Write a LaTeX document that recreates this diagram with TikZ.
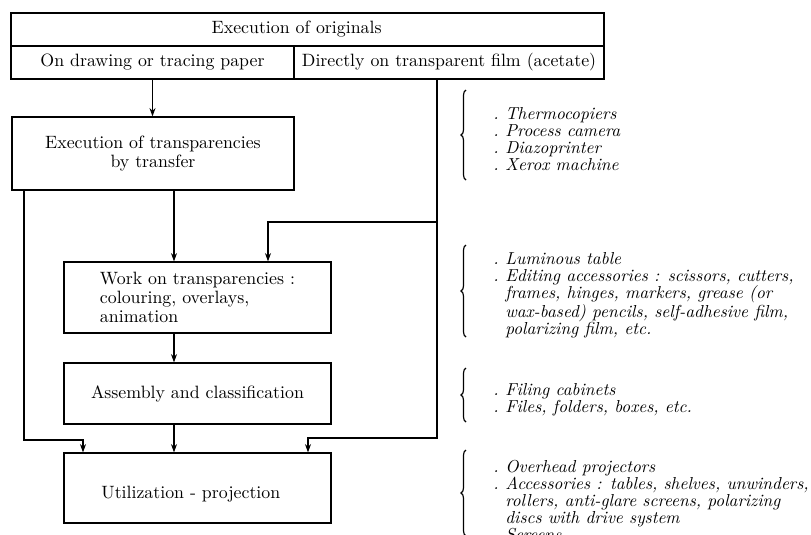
\documentclass[tikz,border=0pt]{standalone}
\usetikzlibrary{arrows.meta,decorations.pathreplacing}
\newcommand\dotitem{\makebox[7.2pt][l]{.}}
\newcommand\contline{\hspace*{7.2pt}}
\begin{document}
\begin{tikzpicture}[x=0.6pt,y=-0.6pt,
  box/.style={draw,line width=0.7pt,inner sep=0pt,align=center,
    font=\fontsize{10.7}{11.2}\selectfont},
  arr/.style={line width=0.7pt,-{Stealth[length=5pt,width=3.6pt]}},
  note/.style={anchor=north west,inner sep=0pt,align=left,
    font=\itshape\fontsize{10.4}{10.2}\selectfont},
  curly/.style={line width=0.7pt,decorate,decoration={brace,amplitude=3pt}}]
\useasboundingbox (0,0) rectangle (811,534);
\clip (0,0) rectangle (811,534);

% boxes of the flow chart
\node[box,minimum width=355.8pt,minimum height=19.8pt] (orig) at (307.5,29.5) {\hspace*{-13pt}Execution of originals};
\node[box,minimum width=169.8pt,minimum height=19.8pt] (paper) at (152.5,62.5) {On drawing or tracing paper};
\node[box,minimum width=186pt,minimum height=19.8pt] (film) at (449,62.5) {Directly on transparent film (acetate)};
\node[box,minimum width=169.2pt,minimum height=43.8pt] (transfer) at (153,153.5) {Execution of transparencies\\by transfer};
\node[box,minimum width=160.2pt,minimum height=42.6pt,align=left] (work) at (197.5,297.5) {Work on transparencies :\\colouring, overlays,\\animation};
\node[box,minimum width=160.2pt,minimum height=36.6pt] (assembly) at (197.5,393.5) {Assembly and classification};
\node[box,minimum width=160.2pt,minimum height=42pt] (util) at (197.5,488) {\raisebox{-4pt}[7pt][2pt]{Utilization - projection}\hspace*{8pt}};

% routing columns and rows for the connectors
\coordinate (xmid) at (174,0);
\coordinate (xleft) at (24,0);
\coordinate (xleftin) at (83,0);
\coordinate (xr) at (437,0);
\coordinate (xw) at (268,0);
\coordinate (xu) at (308,0);
\coordinate (j1) at (0,222);
\coordinate (j2) at (0,438);
\coordinate (j3) at (0,440);

% connectors
\draw[arr] (paper.south) -- (paper.south |- transfer.north);
\draw[arr] (transfer.south -| xmid) -- (work.north -| xmid);
\draw[arr] (work.south -| xmid) -- (assembly.north -| xmid);
\draw[arr] (assembly.south -| xmid) -- (util.north -| xmid);
\draw[arr] (transfer.south -| xleft) |- (xleftin |- j3) -- (util.north -| xleftin);
\draw[arr] (film.south -| xr) |- (xw |- j1) -- (work.north -| xw);
\draw[arr] (xr |- j1) |- (xu |- j2) -- (util.north -| xu);

% equipment lists with their braces
\coordinate (bA1) at (466,180); \coordinate (bA2) at (466,90);
\coordinate (bB1) at (466,337); \coordinate (bB2) at (466,245);
\coordinate (bC1) at (466,422); \coordinate (bC2) at (466,368);
\coordinate (bD1) at (466,536); \coordinate (bD2) at (466,450);
\draw[curly] (bA1) -- (bA2);
\draw[curly] (bB1) -- (bB2);
\draw[curly] (bC1) -- (bC2);
\draw[curly] (bD1) -- (bD2);

\node[note] (listA) at (493,107) {\dotitem Thermocopiers\\\dotitem Process camera\\\dotitem Diazoprinter\\\dotitem Xerox machine};
\node[note] (listB) at (493,252) {\dotitem Luminous table\\\dotitem Editing accessories : scissors, cutters,\\\contline frames, hinges, markers, grease (or\\\contline wax-based) pencils, self-adhesive film,\\\contline polarizing film, etc.};
\node[note] (listC) at (493,383) {\dotitem Filing cabinets\\\dotitem Files, folders, boxes, etc.};
\node[note] (listD) at (493,460) {\dotitem Overhead projectors\\\dotitem Accessories : tables, shelves, unwinders,\\\contline rollers, anti-glare screens, polarizing\\\contline discs with drive system\\\dotitem Screens};
\end{tikzpicture}
\end{document}
